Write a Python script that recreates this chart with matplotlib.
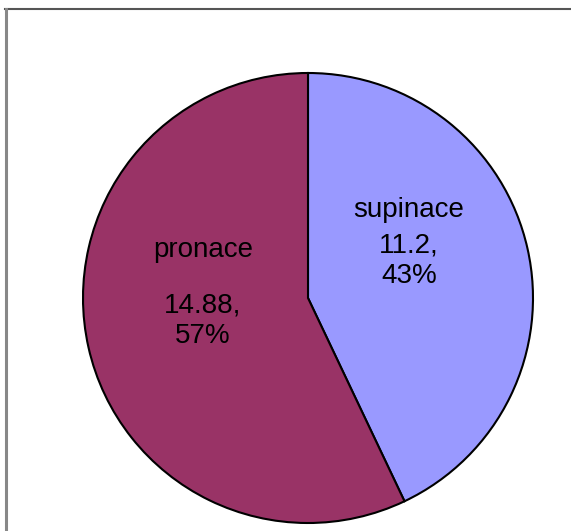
import matplotlib
matplotlib.use("Agg")
import matplotlib.pyplot as plt
from matplotlib.lines import Line2D

categories = ["supinace", "pronace"]
values = [11.2, 14.88]
colors = ["#9999FF", "#993366"]

W, H = 571, 531
fig = plt.figure(figsize=(W / 100, H / 100), dpi=100)
ax = fig.add_axes([0, 0, 1, 1])

cx, cy, r = 308, H - 298, 225
ax.pie(values, colors=colors, startangle=90, counterclock=False,
       center=(cx, cy), radius=r, frame=True,
       wedgeprops=dict(edgecolor="black", linewidth=1.5))
ax.set_xlim(0, W)
ax.set_ylim(0, H)
ax.set_aspect("equal")
ax.axis("off")

total = sum(values)
pcts = [round(v / total * 100) for v in values]
# label baselines (pixels): x, name, value, percent
label_x = [409, 203]
name_y = [217, 257]
val_y = [253, 312]
pct_y = [283, 343]
fs = 20
for name, v, p, x, ny, vy, py in zip(categories, values, pcts, label_x,
                                     name_y, val_y, pct_y):
    for txt, yy in ((name, ny), (f"{v:g},", vy), (f"{p}%", py)):
        ax.text(x, H - yy, txt, ha="center", va="baseline",
                fontsize=fs, family="Liberation Sans")

# frame lines
fig.add_artist(Line2D([5 / W, 1], [1 - 9 / H, 1 - 9 / H], color="#555555",
                      linewidth=1.5, transform=fig.transFigure))
fig.add_artist(Line2D([6 / W, 6 / W], [0, 1 - 9 / H], color="#888888",
                      linewidth=2.2, transform=fig.transFigure))

fig.savefig("out.png", dpi=100)
